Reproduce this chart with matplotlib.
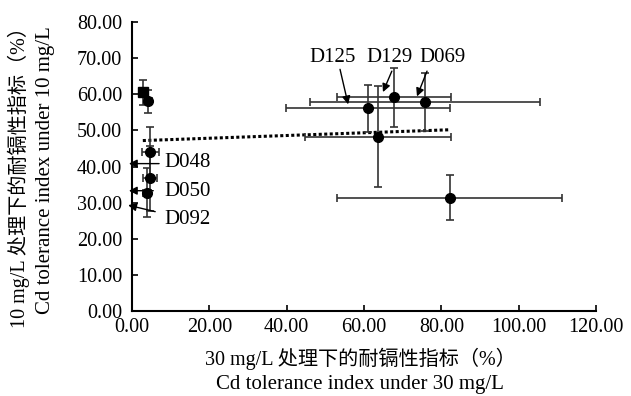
import numpy as np
import matplotlib.pyplot as plt

plt.rcParams['font.family'] = ['Liberation Serif', 'Noto Sans CJK SC']

# Cd tolerance index (%) under 30 mg/L (x) and 10 mg/L (y)
x_vals = [2.8, 4.2, 4.7, 4.7, 3.9, 67.8, 75.8, 61.1, 63.6, 82.2]
y_vals = [60.5, 58.0, 43.9, 36.7, 32.8, 59.2, 57.8, 56.1, 48.3, 31.4]
x_err = [1.0, 1.0, 2.2, 1.8, 1.0, 14.7, 29.7, 21.2, 18.9, 29.1]
y_err = [3.4, 3.3, 6.9, 9.0, 6.7, 8.2, 8.0, 6.5, 14.0, 6.2]
square_idx = [0]

# labels: (name, text x, text y, arrow tail x, tail y, head x, head y)
left_labels = [("D048", 8.5, 41.1, 7.0, 40.8, -0.8, 40.8),
               ("D050", 8.5, 33.0, 5.5, 33.3, -0.8, 33.3),
               ("D092", 8.5, 25.3, 6.0, 27.5, -1.0, 29.3)]
top_labels = [("D125", 51.8, 70.3, 53.8, 66.9, 55.9, 57.2),
              ("D129", 66.6, 70.3, 67.2, 66.4, 64.9, 60.6),
              ("D069", 80.4, 70.3, 76.3, 66.4, 73.7, 59.4)]

x = np.array(x_vals)
y = np.array(y_vals)

fig = plt.figure(figsize=(6.31, 3.96), dpi=100)
ax = fig.add_axes([132/631, 1 - 311/396, 464/631, 289/396])

ax.errorbar(x, y, xerr=x_err, yerr=y_err, fmt='none', ecolor='#333333',
            elinewidth=1.2, capsize=3, capthick=1.2, zorder=2)
circ = [i for i in range(len(x)) if i not in square_idx]
ax.plot(x[circ], y[circ], 'o', color='black', markersize=7, zorder=3)
ax.plot(x[square_idx], y[square_idx], 's', color='black', markersize=7, zorder=3)

# linear trend line
slope, intercept = np.polyfit(x, y, 1)
xs = np.array([x.min(), x.max()])
ax.plot(xs, slope * xs + intercept, linestyle=(0, (1, 0.8)), color='black',
        linewidth=2.2, zorder=1)

arrow = dict(arrowstyle='-|>', color='black', lw=1.0, mutation_scale=12,
             shrinkA=0, shrinkB=0)
for name, tx, ty, ax0, ay0, hx, hy in left_labels:
    ax.text(tx, ty, name, fontsize=15, va='center', ha='left')
    ax.annotate('', xy=(hx, hy), xytext=(ax0, ay0), arrowprops=arrow,
                annotation_clip=False)
for name, tx, ty, ax0, ay0, hx, hy in top_labels:
    ax.text(tx, ty, name, fontsize=15, va='center', ha='center')
    ax.annotate('', xy=(hx, hy), xytext=(ax0, ay0), arrowprops=arrow)

ax.set_xlim(0, 120)
ax.set_ylim(0, 80)
ax.set_xticks(np.arange(0, 121, 20))
ax.set_yticks(np.arange(0, 81, 10))
ax.xaxis.set_major_formatter(plt.FormatStrFormatter('%.2f'))
ax.yaxis.set_major_formatter(plt.FormatStrFormatter('%.2f'))
ax.tick_params(direction='in', labelsize=14.5, length=4, width=1.2)
ax.tick_params(axis='x', pad=5)
ax.tick_params(axis='y', pad=7)
ax.spines['top'].set_visible(False)
ax.spines['right'].set_visible(False)
for s in ['left', 'bottom']:
    ax.spines[s].set_linewidth(1.5)

fig.text(360/631, 1 - 359/396, '30 mg/L 处理下的耐镉性指标（%）',
         ha='center', va='center', fontsize=14.5)
fig.text(360/631, 1 - 384/396, 'Cd tolerance index under 30 mg/L',
         ha='center', va='center', fontsize=15)
fig.text(19/631, 1 - 173/396, '10 mg/L 处理下的耐镉性指标（%）',
         ha='center', va='center', fontsize=14.5, rotation=90)
fig.text(46/631, 1 - 170/396, 'Cd tolerance index under 10 mg/L',
         ha='center', va='center', fontsize=15, rotation=90)

fig.savefig('out.png', dpi=100)
